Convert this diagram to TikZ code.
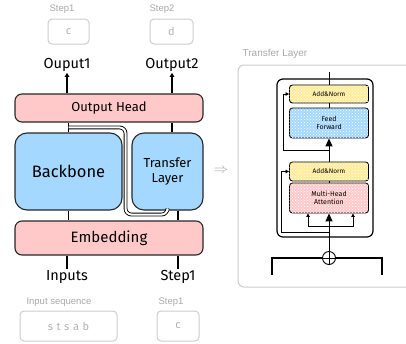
\documentclass[tikz,border=0pt]{standalone}
\usepackage{fontspec}
\setmainfont{Fira Sans}
\newfontfamily\labelfont{Liberation Sans}
\usepackage{tikz}
\usetikzlibrary{arrows.meta,calc,patterns}
\definecolor{headpink}{HTML}{FFC9C9}
\definecolor{bodyblue}{HTML}{A5D8FF}
\definecolor{normyellow}{HTML}{FFEC99}
\definecolor{faintgrey}{HTML}{A8A8A8}

\begin{document}
\begin{tikzpicture}[x=1pt, y=-1pt,
  blk/.style={rectangle, rounded corners=7pt, draw=black!85, line width=1.1pt, align=center, inner sep=0pt},
  pinkblk/.style={blk, fill=headpink},
  blueblk/.style={blk, fill=bodyblue, rounded corners=12pt},
  tag/.style={font=\fontsize{14.5}{16}\selectfont, inner sep=1pt},
  hint/.style={font=\labelfont\fontsize{9.5}{11}\selectfont, text=faintgrey, inner sep=0pt},
  tok/.style={rectangle, rounded corners=4pt, draw=black!20, line width=1pt, text=black!30,
    font=\fontsize{11}{13}\selectfont, inner sep=0pt},
  arr/.style={-{Triangle[length=4pt,width=4.5pt]}, line width=1.1pt},
  lnk/.style={line width=1.1pt},
  dbl/.style={draw=black, double=white, line width=0.9pt, double distance=2pt, rounded corners=6pt},
  sub/.style={rectangle, rounded corners=3pt, draw=black, line width=0.9pt, minimum width=79pt,
    align=center, inner sep=0pt, font=\fontsize{6.5}{7.5}\selectfont,
    postaction={pattern=crosshatch dots, pattern color=white}},
  sarr/.style={-{Triangle[length=3.5pt,width=3.5pt]}, line width=1pt},
  barr/.style={-{Triangle[length=8pt,width=7pt]}, line width=1pt}]
\useasboundingbox (0,0) rectangle (406,343);
\clip (0,0) rectangle (406,343);

% left: model
\node[pinkblk, minimum width=188pt, minimum height=28pt, font=\fontsize{13}{15}\selectfont] (oh) at (109,108) {Output Head};
\node[blueblk, minimum width=107pt, minimum height=77pt, font=\fontsize{16.5}{18}\selectfont] (bb) at (68.5,171.5) {Backbone};
\node[blueblk, minimum width=71pt, minimum height=77pt, font=\fontsize{13}{15.5}\selectfont] (tl) at (167.5,171.5) {Transfer\\Layer};
\node[pinkblk, minimum width=188pt, minimum height=34pt, font=\fontsize{15}{17}\selectfont] (em) at (109,238) {Embedding};

\node[tag] (o1) at (67,65) {Ouput1};
\node[tag] (o2) at (172,65) {Output2};
\node[tag] (in) at (67,277) {Inputs};
\node[tag] (s1) at (178,277) {Step1};

\draw[arr] (o1 |- oh.north) -- (o1.south);
\draw[arr] (o2 |- oh.north) -- (o2.south);
\draw[lnk] (bb.north) -- (bb.north |- oh.south);
\draw[lnk] (o2 |- tl.north) -- (o2 |- oh.south);
\draw[lnk] (bb.south) -- (bb.south |- em.north);
\draw[lnk] (s1 |- tl.south) -- (s1 |- em.north);
\draw[lnk] (in |- em.south) -- (in.north);
\draw[lnk] (s1 |- em.south) -- (s1.north);
\draw[dbl] ([yshift=5pt]bb.north) -| ([xshift=3pt,yshift=-4pt]bb.south east) -| (tl.south);

% grey sample tokens
\node[hint] (h1) at (62,9) {Step1};
\node[tok, minimum width=41pt, minimum height=25pt] (c1) at (68.5,31.5) {c};
\node[hint] (h2) at (162,9) {Step2};
\node[tok, minimum width=43pt, minimum height=25pt] (d1) at (171.5,31.5) {d};
\node[hint] (h3) at (59,302) {Input sequence};
\node[tok, minimum width=97pt, minimum height=30pt] (seq) at (68.5,326) {s\,\,t\,\,s\,\,a\,\,b};
\node[hint] (h4) at (171,302) {Step1};
\node[tok, minimum width=42pt, minimum height=30pt] (c2) at (178,326) {c};

\node[text=faintgrey, font=\Large] (goes) at (221,171) {$\Rightarrow$};

% right: inside the transfer layer
\node[hint, font=\labelfont\fontsize{10}{12}\selectfont] (ttl) at (275,54) {Transfer Layer};
\draw[draw=black!20, line width=1pt, rounded corners=6pt] (238,65) rectangle (420,287);
\draw[line width=1.2pt, rounded corners=6pt] (277,79) rectangle (373,237);

\node[sub, fill=normyellow, minimum height=18pt] (an1) at (329,94) {Add\&Norm};
\node[sub, fill=bodyblue, minimum height=30pt, font=\fontsize{7}{8.5}\selectfont] (ff) at (329,123) {Feed\\Forward};
\node[sub, fill=normyellow, minimum height=19pt] (an2) at (329,171.5) {Add\&Norm};
\node[sub, fill=headpink, minimum height=30pt, font=\fontsize{7}{8.5}\selectfont] (mha) at (329,198) {Multi-Head\\Attention};
\node[circle, draw, line width=0.9pt, minimum size=13pt, inner sep=0pt,
  path picture={\draw[line width=0.9pt] (path picture bounding box.north) -- (path picture bounding box.south)
    (path picture bounding box.west) -- (path picture bounding box.east);}] (plus) at (329,258) {};

\coordinate (top) at (329,72);
\coordinate (r1) at (329,150);
\coordinate (r2) at (329,232);
\coordinate (split) at (329,226);
\coordinate (inl) at (272,275);
\coordinate (inr) at (382,275);

\draw[line width=1pt] (an1.north) -- (top);
\draw[line width=1pt] (ff.north) -- (an1.south);
\draw[barr] (an2.north) -- (ff.south);
\draw[line width=1pt] (mha.north) -- (an2.south);
\draw[sarr] (r1) -| ([xshift=-6pt]an1.west) -- (an1.west);
\draw[sarr] (r2) -| ([xshift=-8pt]an2.west) -- (an2.west);
\draw[barr] (plus.north) -- (mha.south);
\draw[sarr] (split) -| ([xshift=-21pt]mha.south);
\draw[sarr] (split) -| ([xshift=24pt]mha.south);
\draw[line width=1.2pt] (inl) |- (plus.west);
\draw[line width=1.2pt] (inr) |- (plus.east);
\end{tikzpicture}
\end{document}
